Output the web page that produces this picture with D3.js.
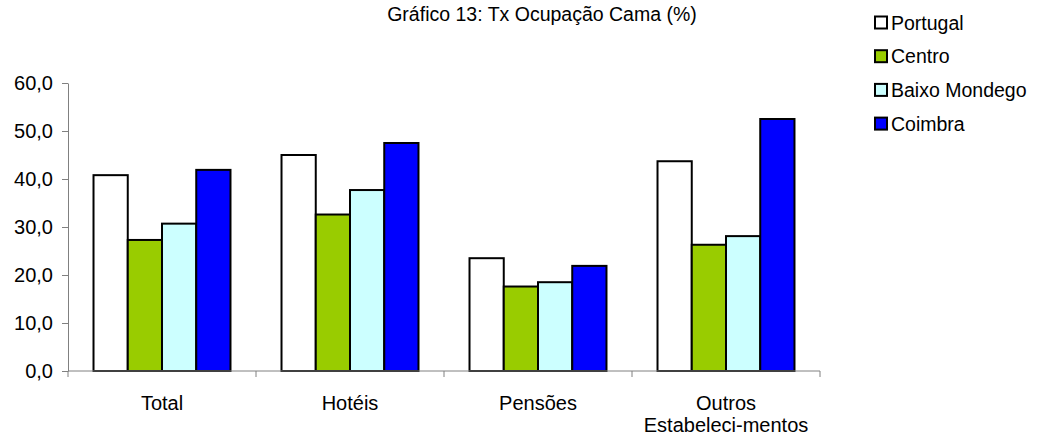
<!DOCTYPE html>
<html>
<head>
<meta charset="utf-8">
<script src="https://cdn.jsdelivr.net/npm/d3@7"></script>
<style>
    body { margin: 0; background: #fff; }
    text { font-family: "Liberation Sans", Arial, sans-serif; fill: #000; }
</style>
</head>
<body>
<svg id="chart" width="1040" height="437"></svg>
<script>
// --- data ---
const categories = ['Total', 'Hotéis', 'Pensões', 'Outros Estabeleci-mentos'];
const seriesNames = ['Portugal', 'Centro', 'Baixo Mondego', 'Coimbra'];
const portugal = [40.8, 45.0, 23.5, 43.7];
const centro = [27.3, 32.6, 17.6, 26.3];
const baixoMondego = [30.7, 37.7, 18.5, 28.1];
const coimbra = [41.9, 47.5, 21.9, 52.5];
const yTicks = [0, 10, 20, 30, 40, 50, 60];
const colors = ['#ffffff', '#99cc00', '#ccffff', '#0000ff'];

const series = [portugal, centro, baixoMondego, coimbra];

const svg = d3.select('#chart');
const margin = { left: 68, right: 220, top: 83, bottom: 66 };
const width = 1040 - margin.left - margin.right;
const height = 437 - margin.top - margin.bottom;

const g = svg.append('g').attr('transform', `translate(${margin.left},${margin.top})`);

const x0 = d3.scaleBand().domain(categories).range([0, width]).paddingInner(0).paddingOuter(0);
const x1 = d3.scaleBand().domain(seriesNames).range([0, x0.bandwidth()]).paddingInner(0).paddingOuter(0.745);
const y = d3.scaleLinear().domain([0, 60]).range([height, 0]);

// bars
categories.forEach((cat, ci) => {
    seriesNames.forEach((s, si) => {
        g.append('rect')
            .attr('x', x0(cat) + x1(s))
            .attr('y', y(series[si][ci]))
            .attr('width', x1.bandwidth())
            .attr('height', height - y(series[si][ci]))
            .attr('fill', colors[si])
            .attr('stroke', '#000')
            .attr('stroke-width', 2);
    });
});

// y axis
const yAxis = g.append('g')
    .call(d3.axisLeft(y).tickValues(yTicks).tickSize(6).tickSizeOuter(0)
        .tickFormat(d => d3.format('.1f')(d).replace('.', ',')));
yAxis.select('.domain').attr('stroke', '#808080');
yAxis.selectAll('.tick line').attr('stroke', '#808080');
yAxis.selectAll('.tick text').attr('font-size', 20).attr('x', -15)
    .style('font-family', '"Liberation Sans", Arial, sans-serif');

// x axis: ticks at category boundaries
const boundaries = categories.map(c => x0(c)).concat([width]);
const xAxis = g.append('g').attr('transform', `translate(0,${height})`);
xAxis.append('line').attr('x1', 0).attr('x2', width).attr('stroke', '#808080');
xAxis.selectAll('.bt').data(boundaries).enter().append('line')
    .attr('x1', d => d).attr('x2', d => d).attr('y1', 0).attr('y2', 6)
    .attr('stroke', '#808080');

const labels = [['Total'], ['Hotéis'], ['Pensões'], ['Outros', 'Estabeleci-mentos']];
categories.forEach((cat, ci) => {
    const t = xAxis.append('text')
        .attr('x', x0(cat) + x0.bandwidth() / 2)
        .attr('y', 39)
        .attr('text-anchor', 'middle')
        .attr('font-size', 20);
    labels[ci].forEach((line, li) => {
        t.append('tspan').attr('x', x0(cat) + x0.bandwidth() / 2).attr('dy', li === 0 ? 0 : 22).text(line);
    });
});

// title
svg.append('text')
    .attr('x', 542).attr('y', 21)
    .attr('text-anchor', 'middle')
    .attr('font-size', 19.5)
    .text('Gráfico 13: Tx Ocupação Cama (%)');

// legend
const legend = svg.append('g').attr('transform', 'translate(874,22.5)');
seriesNames.forEach((s, i) => {
    const row = legend.append('g').attr('transform', `translate(0,${i * 33.7})`);
    row.append('rect').attr('x', 1).attr('y', -6).attr('width', 12).attr('height', 12)
        .attr('fill', colors[i]).attr('stroke', '#000').attr('stroke-width', 2);
    row.append('text').attr('x', 17).attr('y', 7).attr('font-size', 19.5).text(s);
});
</script>
</body>
</html>
